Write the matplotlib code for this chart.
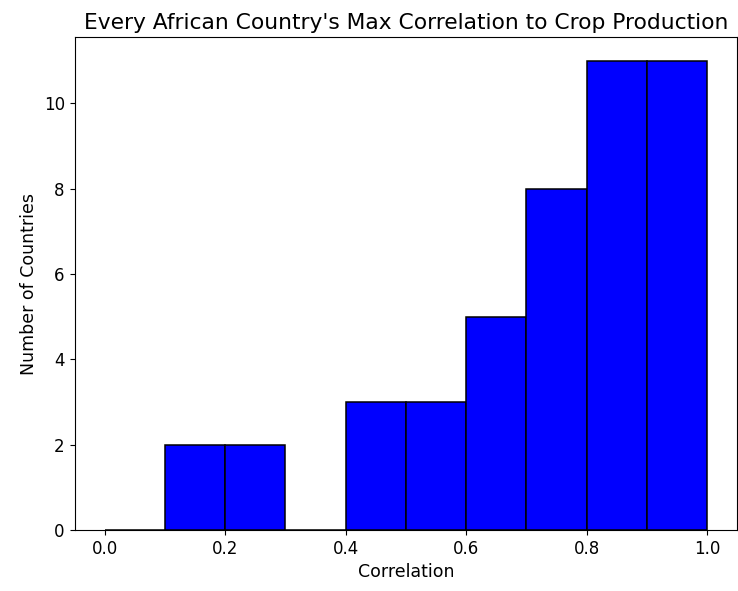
import matplotlib
matplotlib.use("Agg")
import matplotlib.pyplot as plt
import numpy as np

# histogram bin edges and counts
bin_edges = [0.0, 0.1, 0.2, 0.3, 0.4, 0.5, 0.6, 0.7, 0.8, 0.9, 1.0]
counts = [0, 2, 2, 0, 3, 3, 5, 8, 11, 11]

fig = plt.figure(figsize=(7.38, 5.91), dpi=100)
ax = fig.add_axes([0.101, 0.103, 0.898, 0.834])

ax.hist(bin_edges[:-1], bins=bin_edges, weights=counts,
        color="blue", edgecolor="black", linewidth=1.1)

ax.set_title("Every African Country's Max Correlation to Crop Production", fontsize=15.7)
ax.set_xlabel("Correlation", fontsize=12.5)
ax.set_ylabel("Number of Countries", fontsize=12.5)
ax.tick_params(labelsize=12)

fig.savefig("out.png", dpi=100)
